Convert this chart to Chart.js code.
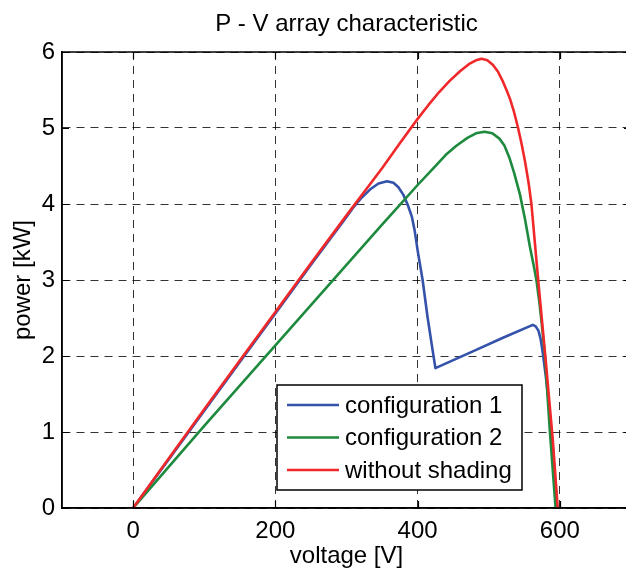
<!DOCTYPE html>
<html><head><meta charset="utf-8">
<script src="https://cdn.jsdelivr.net/npm/chart.js@4.4.1/dist/chart.umd.min.js"></script>
<style>html,body{margin:0;padding:0;background:#fff;overflow:hidden;} #wrap{width:640px;height:569px;}</style>
</head><body><div id="wrap"><canvas id="c" width="640" height="569"></canvas></div>
<script>
const xTicks = [0, 200, 400, 600];
const yTicks = [0, 1, 2, 3, 4, 5, 6];
const seriesLabels = ['configuration 1', 'configuration 2', 'without shading'];

const config1V = [0, 50, 100, 150, 200, 250, 300, 310, 320, 333, 345, 357, 366, 373, 380, 386, 392, 396, 400, 407, 414, 421, 425, 480, 520, 562, 566, 570, 573, 576, 580, 583, 587, 590, 593, 596];
const config1P = [0, 0.64, 1.28, 1.92, 2.56, 3.2, 3.83, 3.96, 4.07, 4.19, 4.27, 4.30, 4.28, 4.22, 4.12, 3.99, 3.83, 3.64, 3.39, 3.0, 2.51, 2.08, 1.84, 2.07, 2.24, 2.41, 2.39, 2.33, 2.22, 2.04, 1.75, 1.51, 1.1, 0.8, 0.4, 0];

const config2V = [0, 50, 100, 150, 200, 250, 300, 350, 375, 400, 420, 440, 455, 470, 482, 494, 505, 515, 522, 529, 536, 544, 551, 558, 563, 567, 571, 574, 579, 586, 594];
const config2P = [0, 0.54, 1.08, 1.61, 2.14, 2.67, 3.2, 3.73, 3.99, 4.25, 4.45, 4.65, 4.77, 4.87, 4.93, 4.95, 4.93, 4.86, 4.77, 4.61, 4.4, 4.12, 3.8, 3.43, 3.2, 3.0, 2.72, 2.47, 2.0, 1.0, 0];

const noShadeV = [0, 50, 100, 150, 200, 250, 300, 325, 350, 375, 400, 415, 430, 445, 460, 472, 482, 490, 498, 506, 513, 520, 525, 530, 535, 541, 546, 551, 556, 560, 570, 580, 590, 597];
const noShadeP = [0, 0.65, 1.3, 1.94, 2.58, 3.22, 3.85, 4.16, 4.47, 4.8, 5.12, 5.3, 5.47, 5.62, 5.75, 5.84, 5.89, 5.91, 5.89, 5.83, 5.74, 5.61, 5.5, 5.38, 5.23, 5.01, 4.8, 4.56, 4.28, 4.0, 2.95, 1.95, 0.9, 0];

const colors = ['#3452a9', '#1e8a3e', '#f0282a'];
const FONT = "'Liberation Sans', Arial, sans-serif";

function pts(v, p) { return v.map((x, i) => ({ x: x, y: p[i] })); }

const boxPlugin = {
  id: 'box',
  afterDatasetsDraw(chart) {
    const { ctx, chartArea: a, scales } = chart;
    ctx.save();
    ctx.strokeStyle = '#000';
    ctx.lineWidth = 1.5;
    ctx.strokeRect(a.left, a.top, a.right - a.left, a.bottom - a.top);
    ctx.lineWidth = 1.2;
    ctx.beginPath();
    xTicks.forEach(v => {
      const x = Math.round(scales.x.getPixelForValue(v)) + 0.5;
      ctx.moveTo(x, a.bottom); ctx.lineTo(x, a.bottom - 7);
      ctx.moveTo(x, a.top); ctx.lineTo(x, a.top + 7);
    });
    yTicks.forEach(v => {
      const y = Math.round(scales.y.getPixelForValue(v)) + 0.5;
      ctx.moveTo(a.left, y); ctx.lineTo(a.left + 7, y);
      ctx.moveTo(a.right, y); ctx.lineTo(a.right - 7, y);
    });
    ctx.stroke();
    ctx.restore();
  }
};

const legendPlugin = {
  id: 'legendBox',
  afterDraw(chart) {
    const { ctx, chartArea: a } = chart;
    const left = a.left + 215, top = a.top + 333, w = 245, h = 105;
    ctx.save();
    ctx.fillStyle = '#fff';
    ctx.fillRect(left, top, w, h);
    ctx.strokeStyle = '#000';
    ctx.lineWidth = 1.5;
    ctx.strokeRect(left, top, w, h);
    ctx.font = '24px ' + FONT;
    ctx.textBaseline = 'middle';
    ctx.textAlign = 'left';
    chart.data.datasets.forEach((ds, i) => {
      const y = top + 20 + i * 32.5;
      ctx.strokeStyle = ds.borderColor;
      ctx.lineWidth = 2.5;
      ctx.beginPath();
      ctx.moveTo(left + 10, y); ctx.lineTo(left + 62, y);
      ctx.stroke();
      ctx.fillStyle = '#000';
      ctx.fillText(ds.label, left + 68, y + 1);
    });
    ctx.restore();
  }
};

const series = [pts(config1V, config1P), pts(config2V, config2P), pts(noShadeV, noShadeP)];

new Chart(document.getElementById('c'), {
  type: 'line',
  data: {
    datasets: series.map((d, i) => ({
      label: seriesLabels[i],
      data: d,
      borderColor: colors[i],
      backgroundColor: colors[i],
      borderWidth: 2.6,
      borderJoinStyle: 'round',
      pointRadius: 0,
      tension: 0,
      fill: false,
      order: 3 - i
    }))
  },
  options: {
    responsive: false,
    devicePixelRatio: 1,
    animation: false,
    layout: { padding: { left: 0, right: 9, top: 0, bottom: 0 } },
    plugins: {
      legend: { display: false },
      tooltip: { enabled: false },
      title: {
        display: true,
        text: 'P - V array characteristic',
        fullSize: false,
        color: '#000',
        font: { family: FONT, size: 24, weight: 'normal', lineHeight: 1 },
        padding: { top: 12, bottom: 16 }
      }
    },
    scales: {
      x: {
        type: 'linear',
        min: -100, max: 700,
        afterBuildTicks: s => { s.ticks = xTicks.map(v => ({ value: v })); },
        afterFit: s => { s.height = 61; },
        grid: { color: 'rgba(0,0,0,0.8)', lineWidth: 1, drawTicks: false },
        border: { display: true, color: '#000', width: 1.5, dash: [8, 6] },
        ticks: { color: '#000', padding: 9, font: { family: FONT, size: 24 }, maxRotation: 0 },
        title: { display: true, text: 'voltage [V]', color: '#000', font: { family: FONT, size: 24, lineHeight: 1 }, padding: { top: 0, bottom: 1 } }
      },
      y: {
        type: 'linear',
        min: 0, max: 6,
        afterBuildTicks: s => { s.ticks = yTicks.map(v => ({ value: v })); },
        afterFit: s => { s.width = 62; },
        grid: { color: 'rgba(0,0,0,0.8)', lineWidth: 1, drawTicks: false },
        border: { display: true, color: '#000', width: 1.5, dash: [8, 6] },
        ticks: { color: '#000', padding: 7, font: { family: FONT, size: 24 } },
        title: { display: true, text: 'power [kW]', color: '#000', font: { family: FONT, size: 24, lineHeight: 1 }, padding: { top: 11, bottom: 0 } }
      }
    }
  },
  plugins: [boxPlugin, legendPlugin]
});
</script>
</body></html>
